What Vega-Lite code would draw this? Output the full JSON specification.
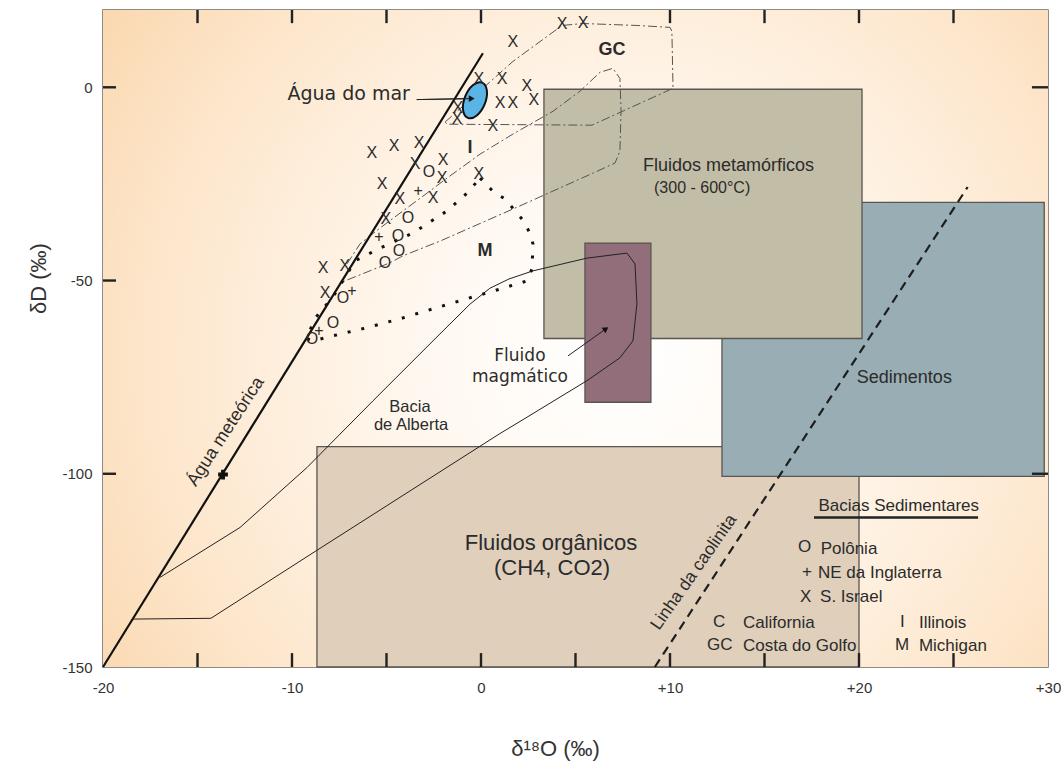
{
  "$schema": "https://vega.github.io/schema/vega-lite/v6.json",
  "width": 945,
  "height": 657,
  "autosize": {"type": "none"},
  "padding": {"left": 103, "top": 10, "right": 13, "bottom": 97},
  "background": "white",
  "config": {
    "view": {"stroke": "#6f665e", "strokeWidth": 1.5},
    "axis": {"ticks": false, "grid": false, "domain": false, "labelFont": "Liberation Sans", "labelFontSize": 15, "labelColor": "#333333", "titleFont": "Liberation Sans", "titleFontWeight": "normal", "titleColor": "#333333", "labelOverlap": false, "labelFlush": false}
  },
  "datasets": {
    "bg": [{"x": -20, "x2": 30, "y": -150, "y2": 20}],
    "organic": [{"x": -8.68, "x2": 20, "y": -150, "y2": -93}],
    "boxes": [
      {"name": "Sedimentos", "x": 12.75, "x2": 29.8, "y": -100.7, "y2": -29.8, "fill": "#98aeb4"},
      {"name": "Fluidos metamórficos", "x": 3.33, "x2": 20.16, "y": -65, "y2": -0.5, "fill": "#c2bda6"},
      {"name": "Fluido magmático", "x": 5.5, "x2": 8.99, "y": -81.5, "y2": -40.3, "fill": "#926e7a"}
    ],
    "vticks": [
      {"x": -15, "y": -150, "y2": -146.4}, {"x": -10, "y": -150, "y2": -146.4}, {"x": -5, "y": -150, "y2": -146.4},
      {"x": 0, "y": -150, "y2": -146.4}, {"x": 5, "y": -150, "y2": -146.4}, {"x": 10, "y": -150, "y2": -146.4},
      {"x": 15, "y": -150, "y2": -146.4}, {"x": 20, "y": -150, "y2": -146.4}, {"x": 25, "y": -150, "y2": -146.4},
      {"x": -15, "y": 20, "y2": 16.6}, {"x": -10, "y": 20, "y2": 16.6}, {"x": -5, "y": 20, "y2": 16.6},
      {"x": 0, "y": 20, "y2": 16.6}, {"x": 10, "y": 20, "y2": 16.6}, {"x": 15, "y": 20, "y2": 16.6},
      {"x": 20, "y": 20, "y2": 16.6}, {"x": 25, "y": 20, "y2": 16.6}
    ],
    "hticks": [
      {"y": 0, "x": -20, "x2": -19.31}, {"y": -50, "x": -20, "x2": -19.31}, {"y": -100, "x": -20, "x2": -19.31},
      {"y": 0, "x": 30, "x2": 29.15}, {"y": -100, "x": 30, "x2": 29.15}
    ],
    "kaolinite": [{"x": 9.2, "y": -150}, {"x": 25.75, "y": -25.8}],
    "meteoric": [{"x": -20, "y": -150}, {"x": 0.1, "y": 8.8}],
    "alberta": [
      {"o": 1, "x": -18.41, "y": -137.6}, {"o": 2, "x": -14.29, "y": -137.4}, {"o": 3, "x": -8.68, "y": -119.8},
      {"o": 4, "x": 1.0, "y": -89.6}, {"o": 5, "x": 2.22, "y": -86.0}, {"o": 6, "x": 5.61, "y": -75.9},
      {"o": 7, "x": 7.35, "y": -70.0}, {"o": 8, "x": 8.04, "y": -65.6}, {"o": 9, "x": 8.25, "y": -56.0},
      {"o": 10, "x": 8.15, "y": -45.7}, {"o": 11, "x": 7.72, "y": -42.9}, {"o": 12, "x": 5.61, "y": -44.2},
      {"o": 13, "x": 2.75, "y": -47.5}, {"o": 14, "x": 1.48, "y": -49.6}, {"o": 15, "x": 0.47, "y": -52.0},
      {"o": 16, "x": -0.58, "y": -56.1}, {"o": 17, "x": -2.17, "y": -63.8}, {"o": 18, "x": -5.71, "y": -81.1},
      {"o": 19, "x": -9.21, "y": -98.4}, {"o": 20, "x": -12.75, "y": -113.9}, {"o": 21, "x": -16.98, "y": -126.8}
    ],
    "gc": [
      {"o": 1, "x": -1.9, "y": -9.0}, {"o": 2, "x": 1.69, "y": 6.7}, {"o": 3, "x": 4.29, "y": 16.0},
      {"o": 4, "x": 5.4, "y": 16.5}, {"o": 5, "x": 8.25, "y": 16.0}, {"o": 6, "x": 10.0, "y": 15.5},
      {"o": 7, "x": 10.1, "y": 14.5}, {"o": 8, "x": 10.16, "y": -0.26}, {"o": 9, "x": 5.87, "y": -9.8},
      {"o": 10, "x": -1.8, "y": -9.55}, {"o": 11, "x": -1.9, "y": -9.0}
    ],
    "illinois": [
      {"o": 1, "x": -7.09, "y": -45.7}, {"o": 2, "x": -6.4, "y": -40.5}, {"o": 3, "x": -5.34, "y": -36.4},
      {"o": 4, "x": -4.13, "y": -32.0}, {"o": 5, "x": -2.86, "y": -27.4}, {"o": 6, "x": -1.8, "y": -23.5},
      {"o": 7, "x": -0.05, "y": -17.3}, {"o": 8, "x": 1.69, "y": -12.1}, {"o": 9, "x": 3.81, "y": -6.2},
      {"o": 10, "x": 5.24, "y": -1.0}, {"o": 11, "x": 6.3, "y": 3.9}, {"o": 12, "x": 6.98, "y": 4.9},
      {"o": 13, "x": 7.35, "y": 2.3}, {"o": 14, "x": 7.41, "y": -6.2}, {"o": 15, "x": 7.35, "y": -16.5},
      {"o": 16, "x": 7.09, "y": -19.6}, {"o": 17, "x": 5.93, "y": -22.2}, {"o": 18, "x": 1.69, "y": -31.5},
      {"o": 19, "x": -2.17, "y": -39.8}, {"o": 20, "x": -4.13, "y": -43.6}, {"o": 21, "x": -4.81, "y": -45.4},
      {"o": 22, "x": -7.46, "y": -50.6}
    ],
    "michigan": [
      {"o": 1, "x": -0.05, "y": -23.5}, {"o": 2, "x": 0.63, "y": -26.9}, {"o": 3, "x": 1.27, "y": -28.9},
      {"o": 4, "x": 2.17, "y": -34.1}, {"o": 5, "x": 2.59, "y": -37.7}, {"o": 6, "x": 2.75, "y": -40.5},
      {"o": 7, "x": 2.7, "y": -47.0}, {"o": 8, "x": 2.43, "y": -50.1}, {"o": 9, "x": 1.01, "y": -52.2},
      {"o": 10, "x": -0.74, "y": -54.7}, {"o": 11, "x": -2.54, "y": -57.3}, {"o": 12, "x": -4.29, "y": -59.9},
      {"o": 13, "x": -6.03, "y": -62.2}, {"o": 14, "x": -7.83, "y": -64.3}, {"o": 15, "x": -8.89, "y": -65.6},
      {"o": 16, "x": -9.25, "y": -65.0}, {"o": 17, "x": -8.75, "y": -59.6}, {"o": 18, "x": -7.8, "y": -54.0},
      {"o": 19, "x": -6.99, "y": -47.5}, {"o": 20, "x": -6.66, "y": -44.9}, {"o": 21, "x": -5.34, "y": -41.6},
      {"o": 22, "x": -3.6, "y": -37.7}, {"o": 23, "x": -1.8, "y": -32.0}, {"o": 24, "x": -0.74, "y": -27.4},
      {"o": 25, "x": -0.05, "y": -23.5}
    ],
    "pointers": [
      {"id": "mar", "o": 1, "x": -3.4, "y": -3.18}, {"id": "mar", "o": 2, "x": -0.49, "y": -2.92},
      {"id": "mag", "o": 1, "x": 4.6, "y": -69.5}, {"id": "mag", "o": 2, "x": 6.61, "y": -62.5}
    ],
    "heads": [{"x": -0.49, "y": -2.92, "angle": 90}, {"x": 6.61, "y": -62.5, "angle": 55}],
    "ellipse": [{"x": -0.32, "y": -3.36}],
    "cross": [{"x": -13.65, "y": -100.2}],
    "markers": [
      {"s": "X", "x": 4.29, "y": 16.27}, {"s": "X", "x": 5.4, "y": 16.52}, {"s": "X", "x": 1.69, "y": 11.62},
      {"s": "X", "x": -0.11, "y": 2.07}, {"s": "X", "x": 1.11, "y": 2.07}, {"s": "X", "x": 2.43, "y": 0.26},
      {"s": "X", "x": 1.01, "y": -4.13}, {"s": "X", "x": 1.69, "y": -4.13}, {"s": "X", "x": 2.8, "y": -3.36},
      {"s": "X", "x": -1.22, "y": -5.42}, {"s": "X", "x": -1.27, "y": -8.26}, {"s": "X", "x": 0.63, "y": -10.07},
      {"s": "X", "x": -5.77, "y": -17.04}, {"s": "X", "x": -4.6, "y": -15.23}, {"s": "X", "x": -3.28, "y": -14.46},
      {"s": "X", "x": -3.49, "y": -19.88}, {"s": "X", "x": -2.01, "y": -18.85}, {"s": "X", "x": -2.06, "y": -23.5},
      {"s": "X", "x": -5.24, "y": -25.05}, {"s": "X", "x": -4.29, "y": -28.92}, {"s": "X", "x": -2.54, "y": -28.66},
      {"s": "X", "x": -0.11, "y": -22.46}, {"s": "X", "x": -5.03, "y": -34.08}, {"s": "X", "x": -8.36, "y": -46.73},
      {"s": "X", "x": -7.2, "y": -46.22}, {"s": "X", "x": -8.25, "y": -53.19},
      {"s": "O", "x": -2.75, "y": -21.95}, {"s": "O", "x": -3.86, "y": -33.82}, {"s": "O", "x": -4.39, "y": -38.47},
      {"s": "O", "x": -4.34, "y": -42.34}, {"s": "O", "x": -5.08, "y": -45.44}, {"s": "O", "x": -7.3, "y": -54.48},
      {"s": "O", "x": -7.83, "y": -60.94}, {"s": "O", "x": -8.94, "y": -65.07},
      {"s": "+", "x": -3.33, "y": -26.85}, {"s": "+", "x": -5.4, "y": -38.73}, {"s": "+", "x": -6.83, "y": -52.67},
      {"s": "+", "x": -8.57, "y": -63.0}
    ],
    "labels": [
      {"t": "Fluidos metamórficos", "x": 13.1, "y": -20.4, "size": 18, "angle": 0},
      {"t": "(300 - 600°C)", "x": 11.7, "y": -26.1, "size": 16, "angle": 0},
      {"t": "Sedimentos", "x": 22.4, "y": -75.1, "size": 18, "angle": 0},
      {"t": "Bacia", "x": -3.76, "y": -82.6, "size": 16.5, "angle": 0},
      {"t": "de Alberta", "x": -3.7, "y": -87.5, "size": 16.5, "angle": 0},
      {"t": "Fluidos orgânicos", "x": 3.7, "y": -118.0, "size": 22, "angle": 0},
      {"t": "(CH4, CO2)", "x": 3.76, "y": -124.5, "size": 22, "angle": 0},
      {"t": "Bacias Sedimentares", "x": 22.1, "y": -108.4, "size": 17, "angle": 0},
      {"t": "Água meteórica", "x": -13.5, "y": -89.1, "size": 18, "angle": -57},
      {"t": "Linha da caolinita", "x": 11.27, "y": -125.5, "size": 17.5, "angle": -55}
    ],
    "dvlabels": [
      {"t": "Fluido", "x": 2.06, "y": -69.5},
      {"t": "magmático", "x": 2.06, "y": -75.0}
    ],
    "mar": [{"t": "Água do mar", "x": -3.76, "y": -1.8}],
    "bold": [
      {"t": "GC", "x": 6.93, "y": 9.55}, {"t": "I", "x": -0.58, "y": -15.6}, {"t": "M", "x": 0.21, "y": -42.3}
    ],
    "legend": [
      {"t": "O", "x": 16.77, "y": -119.0}, {"t": "+", "x": 16.98, "y": -125.5}, {"t": "X", "x": 16.88, "y": -131.9},
      {"t": "C", "x": 12.28, "y": -138.4}, {"t": "GC", "x": 11.96, "y": -144.3}, {"t": "I", "x": 22.17, "y": -138.4},
      {"t": "M", "x": 21.9, "y": -144.3},
      {"t": "Polônia", "x": 17.97, "y": -119.5}, {"t": "NE da Inglaterra", "x": 17.83, "y": -125.7},
      {"t": "S. Israel", "x": 17.94, "y": -131.9}, {"t": "California", "x": 13.86, "y": -138.6},
      {"t": "Costa do Golfo", "x": 13.86, "y": -144.6}, {"t": "Illinois", "x": 23.17, "y": -138.6},
      {"t": "Michigan", "x": 23.17, "y": -144.6}
    ],
    "underline": [{"x": 17.62, "x2": 26.3, "y": -111.3}]
  },
  "layer": [
    {
      "data": {"name": "bg"},
      "mark": {"type": "rect", "fill": {"gradient": "radial", "x1": 0.55, "y1": 0.52, "r1": 0, "x2": 0.55, "y2": 0.52, "r2": 0.72, "stops": [{"offset": 0, "color": "#ffffff"}, {"offset": 0.3, "color": "#fff8f0"}, {"offset": 0.7, "color": "#fde6cb"}, {"offset": 1, "color": "#f9d3a5"}]}},
      "encoding": {
        "x": {"field": "x", "type": "quantitative", "scale": {"domain": [-20, 30], "nice": false, "zero": false}, "axis": {"orient": "bottom", "values": [-20, -10, 0, 10, 20, 30], "labelExpr": "datum.value > 0 ? '+' + datum.value : '' + datum.value", "labelPadding": 13, "title": "δ¹⁸O (‰)", "titleFontSize": 22, "titleX": 452, "titleY": 81, "titleBaseline": "middle", "titleAlign": "center"}},
        "x2": {"field": "x2"},
        "y": {"field": "y", "type": "quantitative", "scale": {"domain": [-150, 20], "nice": false, "zero": false}, "axis": {"orient": "left", "values": [-150, -100, -50, 0], "labelExpr": "'' + datum.value", "labelPadding": 11, "title": "δD (‰)", "titleFontSize": 22, "titleX": -65, "titleY": 268, "titleAngle": -90, "titleBaseline": "middle", "titleAlign": "center"}},
        "y2": {"field": "y2"}
      }
    },
    {
      "data": {"name": "organic"},
      "mark": {"type": "rect", "fill": "#dfcfbb", "stroke": "#5a5550", "strokeWidth": 1.3},
      "encoding": {"x": {"field": "x", "type": "quantitative", "axis": null}, "x2": {"field": "x2"}, "y": {"field": "y", "type": "quantitative", "axis": null}, "y2": {"field": "y2"}}
    },
    {
      "data": {"name": "boxes"},
      "mark": {"type": "rect", "stroke": "#5a5550", "strokeWidth": 1.3},
      "encoding": {"x": {"field": "x", "type": "quantitative", "axis": null}, "x2": {"field": "x2"}, "y": {"field": "y", "type": "quantitative", "axis": null}, "y2": {"field": "y2"}, "fill": {"field": "fill", "type": "nominal", "scale": null}}
    },
    {
      "data": {"name": "vticks"},
      "mark": {"type": "rule", "color": "#222222", "strokeWidth": 2.4},
      "encoding": {"x": {"field": "x", "type": "quantitative", "axis": null}, "y": {"field": "y", "type": "quantitative", "axis": null}, "y2": {"field": "y2"}}
    },
    {
      "data": {"name": "hticks"},
      "mark": {"type": "rule", "color": "#222222", "strokeWidth": 2.4},
      "encoding": {"x": {"field": "x", "type": "quantitative", "axis": null}, "x2": {"field": "x2"}, "y": {"field": "y", "type": "quantitative", "axis": null}}
    },
    {
      "data": {"name": "kaolinite"},
      "mark": {"type": "line", "color": "#1e1e1e", "strokeWidth": 2.2, "strokeDash": [9, 6]},
      "encoding": {"x": {"field": "x", "type": "quantitative", "axis": null}, "y": {"field": "y", "type": "quantitative", "axis": null}}
    },
    {
      "data": {"name": "alberta"},
      "mark": {"type": "line", "color": "#222222", "strokeWidth": 1},
      "encoding": {"x": {"field": "x", "type": "quantitative", "axis": null}, "y": {"field": "y", "type": "quantitative", "axis": null}, "order": {"field": "o", "type": "quantitative"}}
    },
    {
      "data": {"name": "gc"},
      "mark": {"type": "line", "color": "#555555", "strokeWidth": 1, "strokeDash": [9, 3, 2, 3]},
      "encoding": {"x": {"field": "x", "type": "quantitative", "axis": null}, "y": {"field": "y", "type": "quantitative", "axis": null}, "order": {"field": "o", "type": "quantitative"}}
    },
    {
      "data": {"name": "illinois"},
      "mark": {"type": "line", "color": "#555555", "strokeWidth": 1, "strokeDash": [9, 3, 2, 3]},
      "encoding": {"x": {"field": "x", "type": "quantitative", "axis": null}, "y": {"field": "y", "type": "quantitative", "axis": null}, "order": {"field": "o", "type": "quantitative"}}
    },
    {
      "data": {"name": "michigan"},
      "mark": {"type": "line", "color": "#111111", "strokeWidth": 3, "strokeDash": [3, 11]},
      "encoding": {"x": {"field": "x", "type": "quantitative", "axis": null}, "y": {"field": "y", "type": "quantitative", "axis": null}, "order": {"field": "o", "type": "quantitative"}}
    },
    {
      "data": {"name": "meteoric"},
      "mark": {"type": "line", "color": "#111111", "strokeWidth": 2.2},
      "encoding": {"x": {"field": "x", "type": "quantitative", "axis": null}, "y": {"field": "y", "type": "quantitative", "axis": null}}
    },
    {
      "data": {"name": "pointers"},
      "mark": {"type": "line", "color": "#222222", "strokeWidth": 1},
      "encoding": {"x": {"field": "x", "type": "quantitative", "axis": null}, "y": {"field": "y", "type": "quantitative", "axis": null}, "detail": {"field": "id", "type": "nominal"}, "order": {"field": "o", "type": "quantitative"}}
    },
    {
      "data": {"name": "ellipse"},
      "mark": {"type": "point", "shape": "M0,-1 A0.553,1,0,1,1,0,1 A0.553,1,0,1,1,0,-1 Z", "size": 1444, "angle": 22, "filled": true, "fill": "#5ab4e6", "stroke": "#111111", "strokeWidth": 2, "opacity": 1},
      "encoding": {"x": {"field": "x", "type": "quantitative", "axis": null}, "y": {"field": "y", "type": "quantitative", "axis": null}}
    },
    {
      "data": {"name": "pointers"},
      "transform": [{"filter": "datum.id == 'mar'"}],
      "mark": {"type": "line", "color": "#222222", "strokeWidth": 1},
      "encoding": {"x": {"field": "x", "type": "quantitative", "axis": null}, "y": {"field": "y", "type": "quantitative", "axis": null}, "order": {"field": "o", "type": "quantitative"}}
    },
    {
      "data": {"name": "heads"},
      "mark": {"type": "point", "shape": "triangle-up", "size": 45, "filled": true, "color": "#111111", "opacity": 1},
      "encoding": {"x": {"field": "x", "type": "quantitative", "axis": null}, "y": {"field": "y", "type": "quantitative", "axis": null}, "angle": {"field": "angle", "type": "quantitative", "scale": null}}
    },
    {
      "data": {"name": "cross"},
      "mark": {"type": "point", "shape": "cross", "size": 95, "filled": true, "color": "#111111", "opacity": 1},
      "encoding": {"x": {"field": "x", "type": "quantitative", "axis": null}, "y": {"field": "y", "type": "quantitative", "axis": null}}
    },
    {
      "data": {"name": "markers"},
      "mark": {"type": "text", "font": "Liberation Sans", "fontSize": 16, "color": "#2b2b2b", "baseline": "middle", "align": "center"},
      "encoding": {"x": {"field": "x", "type": "quantitative", "axis": null}, "y": {"field": "y", "type": "quantitative", "axis": null}, "text": {"field": "s", "type": "nominal"}}
    },
    {
      "data": {"name": "labels"},
      "mark": {"type": "text", "font": "Liberation Sans", "color": "#2b2b2b", "baseline": "middle", "align": "center"},
      "encoding": {"x": {"field": "x", "type": "quantitative", "axis": null}, "y": {"field": "y", "type": "quantitative", "axis": null}, "text": {"field": "t", "type": "nominal"}, "size": {"field": "size", "type": "quantitative", "scale": null}, "angle": {"field": "angle", "type": "quantitative", "scale": null}}
    },
    {
      "data": {"name": "dvlabels"},
      "mark": {"type": "text", "font": "DejaVu Sans", "fontSize": 17, "color": "#2b2b2b", "baseline": "middle", "align": "center"},
      "encoding": {"x": {"field": "x", "type": "quantitative", "axis": null}, "y": {"field": "y", "type": "quantitative", "axis": null}, "text": {"field": "t", "type": "nominal"}}
    },
    {
      "data": {"name": "mar"},
      "mark": {"type": "text", "font": "DejaVu Sans", "fontSize": 19, "color": "#2b2b2b", "baseline": "middle", "align": "right"},
      "encoding": {"x": {"field": "x", "type": "quantitative", "axis": null}, "y": {"field": "y", "type": "quantitative", "axis": null}, "text": {"field": "t", "type": "nominal"}}
    },
    {
      "data": {"name": "bold"},
      "mark": {"type": "text", "font": "Liberation Sans", "fontSize": 18, "fontWeight": "bold", "color": "#2b2b2b", "baseline": "middle", "align": "center"},
      "encoding": {"x": {"field": "x", "type": "quantitative", "axis": null}, "y": {"field": "y", "type": "quantitative", "axis": null}, "text": {"field": "t", "type": "nominal"}}
    },
    {
      "data": {"name": "legend"},
      "mark": {"type": "text", "font": "Liberation Sans", "fontSize": 17, "color": "#2b2b2b", "baseline": "middle", "align": "left"},
      "encoding": {"x": {"field": "x", "type": "quantitative", "axis": null}, "y": {"field": "y", "type": "quantitative", "axis": null}, "text": {"field": "t", "type": "nominal"}}
    },
    {
      "data": {"name": "underline"},
      "mark": {"type": "rule", "color": "#222222", "strokeWidth": 2.5},
      "encoding": {"x": {"field": "x", "type": "quantitative", "axis": null}, "y": {"field": "y", "type": "quantitative", "axis": null}, "x2": {"field": "x2"}}
    }
  ],
  "resolve": {"axis": {"x": "independent", "y": "independent"}}
}
